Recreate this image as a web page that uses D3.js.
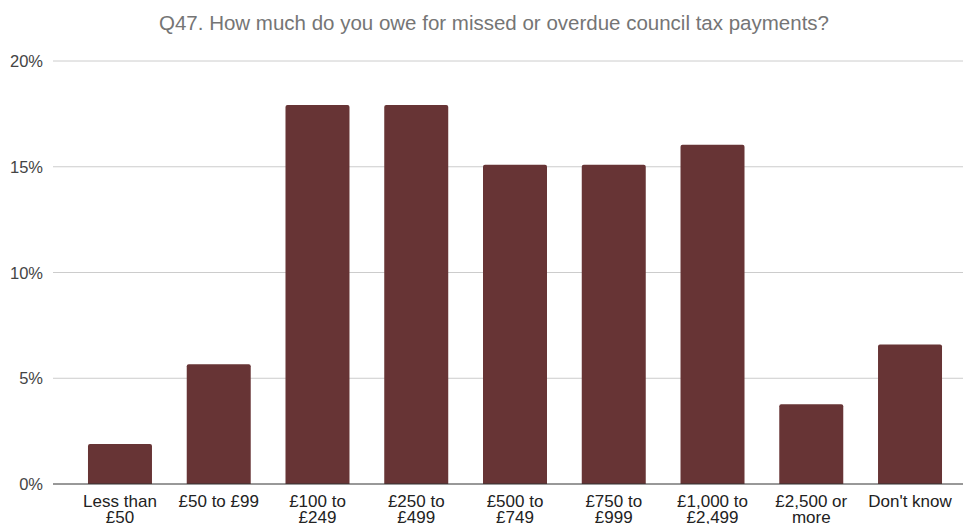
<!DOCTYPE html>
<html><head><meta charset="utf-8">
<script src="https://cdn.jsdelivr.net/npm/d3@7"></script>
<style>body{margin:0;background:#fff;font-family:"Liberation Sans",Arial,sans-serif;}</style>
</head><body><svg id="c" width="963" height="524"></svg>
<script>
const categories = [["Less than","£50"],["£50 to £99"],["£100 to","£249"],["£250 to","£499"],["£500 to","£749"],["£750 to","£999"],["£1,000 to","£2,499"],["£2,500 or","more"],["Don't know"]];
const values = [1.89, 5.66, 17.92, 17.92, 15.09, 15.09, 16.04, 3.77, 6.60];
const yTicks = [0, 5, 10, 15, 20];
const title = "Q47. How much do you owe for missed or overdue council tax payments?";

const svg = d3.select("#c");
const gridL = 53, gridR = 963;
const x = d3.scaleBand().domain(d3.range(categories.length)).range([70.6, 959.4]).paddingInner(0.352).paddingOuter(0.176);
const y = d3.scaleLinear().domain([0, 20]).range([484, 61]);

svg.append("text").attr("x", 494).attr("y", 30).attr("text-anchor", "middle")
  .attr("font-size", 20.5).attr("fill", "#757575").text(title);

const g = svg.append("g");
g.selectAll("line.grid").data(yTicks.filter(d => d > 0)).join("line")
  .attr("x1", gridL).attr("x2", gridR).attr("y1", d => y(d)).attr("y2", d => y(d))
  .attr("stroke", "#cccccc").attr("stroke-width", 1);
g.selectAll("text.yl").data(yTicks).join("text")
  .attr("x", 43).attr("y", d => y(d) + 6).attr("text-anchor", "end")
  .attr("font-size", 16.5).attr("fill", "#444").text(d => d + "%");

const bw = x.bandwidth();
g.selectAll("path.bar").data(values).join("path")
  .attr("fill", "#673435")
  .attr("d", (d, i) => {
    const x0 = x(i), x1 = x0 + bw, y0 = y(d), yb = y(0), r = 2;
    return `M${x0},${yb}V${y0 + r}Q${x0},${y0} ${x0 + r},${y0}H${x1 - r}Q${x1},${y0} ${x1},${y0 + r}V${yb}Z`;
  });

g.append("line").attr("x1", gridL).attr("x2", gridR).attr("y1", y(0)).attr("y2", y(0))
  .attr("stroke", "#333").attr("stroke-width", 1);

const lab = g.selectAll("text.xl").data(categories).join("text")
  .attr("text-anchor", "middle").attr("font-size", 17).attr("fill", "#222")
  .attr("transform", (d, i) => `translate(${x(i) + bw / 2},507)`);
lab.selectAll("tspan").data(d => d).join("tspan")
  .attr("x", 0).attr("dy", (d, j) => j === 0 ? 0 : 16).text(d => d);
</script></body></html>
